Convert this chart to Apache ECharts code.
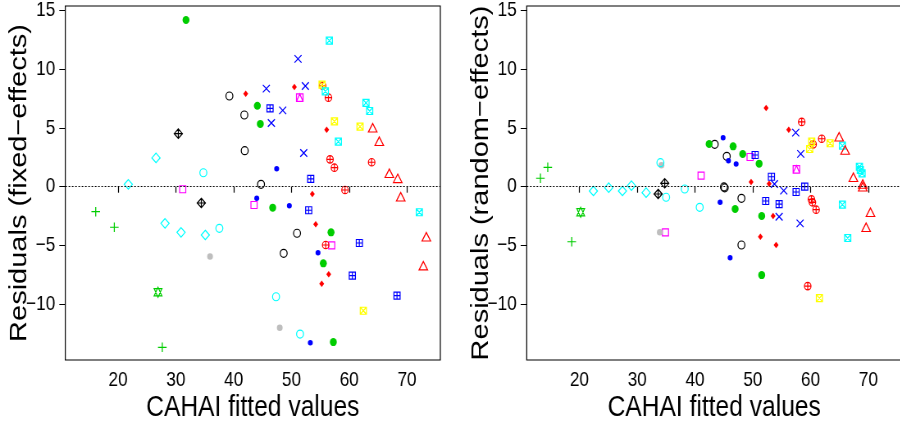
<!DOCTYPE html>
<html>
<head>
<meta charset="utf-8">
<title>CAHAI residuals</title>
<script src="https://cdn.jsdelivr.net/npm/echarts@6/dist/echarts.min.js"></script>
<style>
  html, body { margin: 0; padding: 0; background: #fff; }
  #wrap { width: 900px; height: 426px; overflow: hidden; }
  /* the reference figure is squeezed horizontally; draw wide and squeeze the same way */
  #main { width: 1098px; height: 426px; transform: scaleX(0.82); transform-origin: 0 0; }
</style>
</head>
<body>
<div id="wrap"><div id="main"></div></div>
<script>
// tick labels
const xTicks = [20, 30, 40, 50, 60, 70];
const yTicks = [-10, -5, 0, 5, 10, 15];

// fixed-effects residuals, one array per symbol group: [fitted, residual]
const plusGreenFE = [[16.14, -2.13], [19.36, -3.46], [27.66, -13.69]];
const starGreenFE = [[26.92, -9.0]];
const diamondCyanFE = [[21.78, 0.2], [26.57, 2.45], [28.13, -3.12], [30.9, -3.89], [35.1, -4.12]];
const squareMagentaFE = [[31.19, -0.22], [43.53, -1.56], [56.97, -5.0]];
const diamondPlusBlackFE = [[30.43, 4.52], [34.41, -1.39]];
const dotGreyFE = [[35.92, -5.94], [47.98, -12.02]];
const circleCyanFE = [[34.76, 1.19], [37.53, -3.55], [47.34, -9.38], [51.49, -12.56]];
const circleBlackFE = [[39.27, 7.73], [41.85, 6.11], [41.92, 3.07], [44.74, 0.2], [50.97, -3.97], [48.66, -5.68]];
const dotBlueFE = [[47.45, 1.53], [44.0, -0.99], [49.64, -1.62], [54.6, -5.63], [53.27, -13.3]];
const dotGreenFE = [[31.76, 14.21], [44.1, 6.9], [44.62, 5.35], [46.76, -1.79], [56.85, -3.89], [55.52, -6.53], [57.25, -13.24]];
const diamondRedFE = [[42.09, 7.93], [50.51, 8.5], [56.1, 4.86], [53.62, -0.62], [54.2, -3.21], [56.45, -7.47], [55.24, -8.27]];
const crossBlueFE = [[51.14, 10.89], [45.66, 8.36], [52.41, 8.58], [48.49, 6.51], [46.53, 5.43], [52.13, 2.87]];
const sqPlusBlueFE = [[46.3, 6.68], [53.34, 0.66], [52.99, -2.01], [61.75, -4.8], [60.54, -7.58], [68.27, -9.29]];
const sqTriMagentaFE = [[51.44, 7.59]];
const circPlusRedFE = [[55.4, 8.6], [56.4, 7.59], [56.68, 2.33], [57.44, 1.62], [63.88, 2.08], [59.27, -0.28], [55.93, -4.97]];
const sqCrossYellowFE = [[55.3, 8.7], [57.44, 5.57], [61.87, 5.12], [62.44, -10.57]];
const sqCrossCyanFE = [[56.56, 12.45], [55.87, 8.13], [62.9, 7.14], [63.54, 6.45], [58.12, 3.84], [72.13, -2.18]];
const triangleRedFE = [[64.06, 5.03], [65.2, 3.87], [66.94, 1.14], [68.39, 0.71], [68.91, -0.85], [73.34, -4.26], [72.82, -6.73]];

// random-effects residuals
const plusGreenRE = [[13.25, 0.72], [14.52, 1.65], [18.67, -4.69]];
const starGreenRE = [[20.22, -2.18]];
const diamondCyanRE = [[22.42, -0.37], [25.07, -0.08], [27.44, -0.37], [29.0, 0.09], [31.54, -0.51]];
const squareMagentaRE = [[41.05, 0.94], [34.88, -3.89], [49.53, 2.53]];
const diamondPlusBlackRE = [[33.62, -0.62], [34.76, 0.29]];
const dotGreyRE = [[34.19, 1.82], [33.9, -3.89]];
const circleCyanRE = [[34.01, 2.05], [35.0, -0.9], [38.22, -0.2], [40.81, -1.76]];
const circleBlackRE = [[43.41, 3.61], [45.49, 2.59], [45.0, -0.02], [45.14, -0.1], [48.03, -0.99], [48.03, -4.97]];
const dotBlueRE = [[44.86, 4.18], [45.78, 2.22], [47.11, 1.94], [44.34, -1.33], [46.07, -6.05]];
const dotGreenRE = [[42.44, 3.64], [46.59, 3.44], [48.25, 2.79], [51.09, 1.96], [46.94, -1.9], [51.54, -2.5], [51.54, -7.53]];
const diamondRedRE = [[52.3, 6.71], [56.21, 4.86], [49.7, 0.4], [52.82, 0.26], [53.51, -2.5], [51.31, -4.26], [54.03, -4.97]];
const crossBlueRE = [[57.42, 4.6], [58.29, 2.79], [53.74, 0.23], [55.35, -0.34], [54.55, -2.56], [58.18, -3.12]];
const sqPlusBlueRE = [[50.4, 2.7], [53.22, 0.85], [52.23, -1.22], [54.55, -1.48], [57.49, -0.45], [58.98, 0.0]];
const sqTriMagentaRE = [[57.54, 1.48]];
const circPlusRedRE = [[58.46, 5.52], [60.43, 3.61], [61.92, 4.09], [60.14, -1.08], [60.31, -1.33], [60.95, -1.96], [59.5, -8.47]];
const sqCrossYellowRE = [[60.19, 3.84], [59.84, 3.21], [63.37, 3.7], [61.52, -9.49]];
const sqCrossCyanRE = [[65.5, 3.5], [68.44, 1.7], [68.6, 1.42], [68.9, 1.14], [65.5, -1.53], [66.42, -4.37]];
const triangleRedRE = [[64.93, 4.26], [65.97, 3.13], [67.4, 0.8], [69.02, 0.23], [69.02, 0.0], [70.35, -2.18], [69.6, -3.46]];

// symbol shapes (R pch look-alikes)
const P = {
    plus: 'path://M0,5H10M5,0V10',
    cross: 'path://M0,0L10,10M10,0L0,10',
    star: 'path://M5,0L10,8.66L0,8.66ZM0,1.34L10,1.34L5,10Z',
    diamondPlus: 'path://M5,0L10,5L5,10L0,5ZM5,0V10M0,5H10',
    sqPlus: 'path://M0,0H10V10H0ZM5,0V10M0,5H10',
    sqCross: 'path://M0,0H10V10H0ZM0,0L10,10M10,0L0,10',
    sqTri: 'path://M0,0H10V10H0ZM0,10L5,0L10,10',
    circPlus: 'path://M0,5A5,5,0,1,1,10,5A5,5,0,1,1,0,5ZM5,0V10M0,5H10',
    triangle: 'path://M5,0L10,8.66L0,8.66Z'
};
const GREEN = '#00CD00', CYAN = '#00FFFF', MAGENTA = '#FF00FF', BLUE = '#0000FF',
      RED = '#FF0000', YELLOW = '#FFFF00', GREY = '#BEBEBE', BLACK = '#000000';

// [fixed data, random data, symbol, size, colour, filled]
const groups = [
    [plusGreenFE, plusGreenRE, P.plus, [10.5, 9.5], GREEN, false],
    [starGreenFE, starGreenRE, P.star, [9.5, 10], GREEN, false],
    [diamondCyanFE, diamondCyanRE, 'diamond', [10, 9.5], CYAN, false],
    [squareMagentaFE, squareMagentaRE, 'rect', [7.5, 7], MAGENTA, false],
    [diamondPlusBlackFE, diamondPlusBlackRE, P.diamondPlus, [10, 9.5], BLACK, false],
    [dotGreyFE, dotGreyRE, 'circle', [7, 6.5], GREY, true],
    [circleCyanFE, circleCyanRE, 'circle', [8.5, 8], CYAN, false],
    [circleBlackFE, circleBlackRE, 'circle', [8.5, 8], BLACK, false],
    [dotBlueFE, dotBlueRE, 'circle', [6, 5.5], BLUE, true],
    [dotGreenFE, dotGreenRE, 'circle', [8.5, 8], GREEN, true],
    [diamondRedFE, diamondRedRE, 'diamond', [6, 6.5], RED, true],
    [crossBlueFE, crossBlueRE, P.cross, [8.5, 7.5], BLUE, false],
    [sqPlusBlueFE, sqPlusBlueRE, P.sqPlus, [7.5, 7], BLUE, false],
    [sqTriMagentaFE, sqTriMagentaRE, P.sqTri, [8, 7.5], MAGENTA, false],
    [circPlusRedFE, circPlusRedRE, P.circPlus, [8, 7.5], RED, false],
    [sqCrossYellowFE, sqCrossYellowRE, P.sqCross, [7.5, 7], YELLOW, false],
    [sqCrossCyanFE, sqCrossCyanRE, P.sqCross, [7.5, 7], CYAN, false],
    [triangleRedFE, triangleRedRE, P.triangle, [10.5, 8.5], RED, false]
];

const SANS = '"Liberation Sans", Arial, sans-serif';
const SQ = 0.82; // horizontal squeeze of the page
const minus = v => String(v).replace('-', '\u2212');

function xAxisFor(i) {
    return {
        type: 'value', gridIndex: i, min: 10.88, max: 75.76,
        axisLine: { show: false },
        splitLine: { show: false },
        axisTick: { show: true, customValues: xTicks, length: 6, lineStyle: { color: '#000', width: 1.2 } },
        axisLabel: { customValues: xTicks, color: '#000', fontFamily: SANS, fontSize: 21, margin: 10 },
        name: 'CAHAI fitted values', nameLocation: 'middle', nameGap: 33, nameMoveOverlap: false,
        nameTextStyle: { color: '#000', fontFamily: SANS, fontSize: 30 }
    };
}
function yAxisFor(i, title) {
    return {
        type: 'value', gridIndex: i, min: -14.77, max: 15.4,
        axisLine: { show: false },
        splitLine: { show: false },
        axisTick: { show: true, customValues: yTicks, length: 6 / SQ, lineStyle: { color: '#000', width: 1 } },
        axisLabel: { customValues: yTicks, color: '#000', fontFamily: SANS, fontSize: 21, margin: 10 / SQ, formatter: minus },
        name: title, nameLocation: 'middle', nameRotate: 90, nameGap: 41, nameMoveOverlap: false,
        nameTextStyle: { color: '#000', fontFamily: SANS, fontSize: 29 }
    };
}

const series = [];
[0, 1].forEach(function (p) {
    groups.forEach(function (g) {
        series.push({
            type: 'scatter', xAxisIndex: p, yAxisIndex: p,
            data: g[p], symbol: g[2], symbolSize: g[3],
            itemStyle: g[5]
                ? { color: g[4], opacity: 1 }
                : { color: 'transparent', borderColor: g[4], borderWidth: 1.2, opacity: 1 },
            emphasis: { disabled: true }
        });
    });
    // dotted zero line
    series.push({
        type: 'line', xAxisIndex: p, yAxisIndex: p, data: [],
        markLine: {
            silent: true, symbol: 'none', label: { show: false },
            lineStyle: { color: '#000', type: [2, 2], width: 1 },
            data: [{ yAxis: 0 }]
        }
    });
});

const chart = echarts.init(document.getElementById('main'));
chart.setOption({
    animation: false,
    backgroundColor: '#fff',
    grid: [
        { left: 65.3 / SQ, top: 6, width: 375 / SQ, height: 354, show: true, borderColor: '#000', borderWidth: 1.2, outerBoundsMode: 'none' },
        { left: 526.7 / SQ, top: 6, width: 375 / SQ, height: 354, show: true, borderColor: '#000', borderWidth: 1.2, outerBoundsMode: 'none' }
    ],
    xAxis: [xAxisFor(0), xAxisFor(1)],
    yAxis: [yAxisFor(0, 'Residuals (fixed\u2212effects)'), yAxisFor(1, 'Residuals (random\u2212effects)')],
    series: series
});
</script>
</body>
</html>
